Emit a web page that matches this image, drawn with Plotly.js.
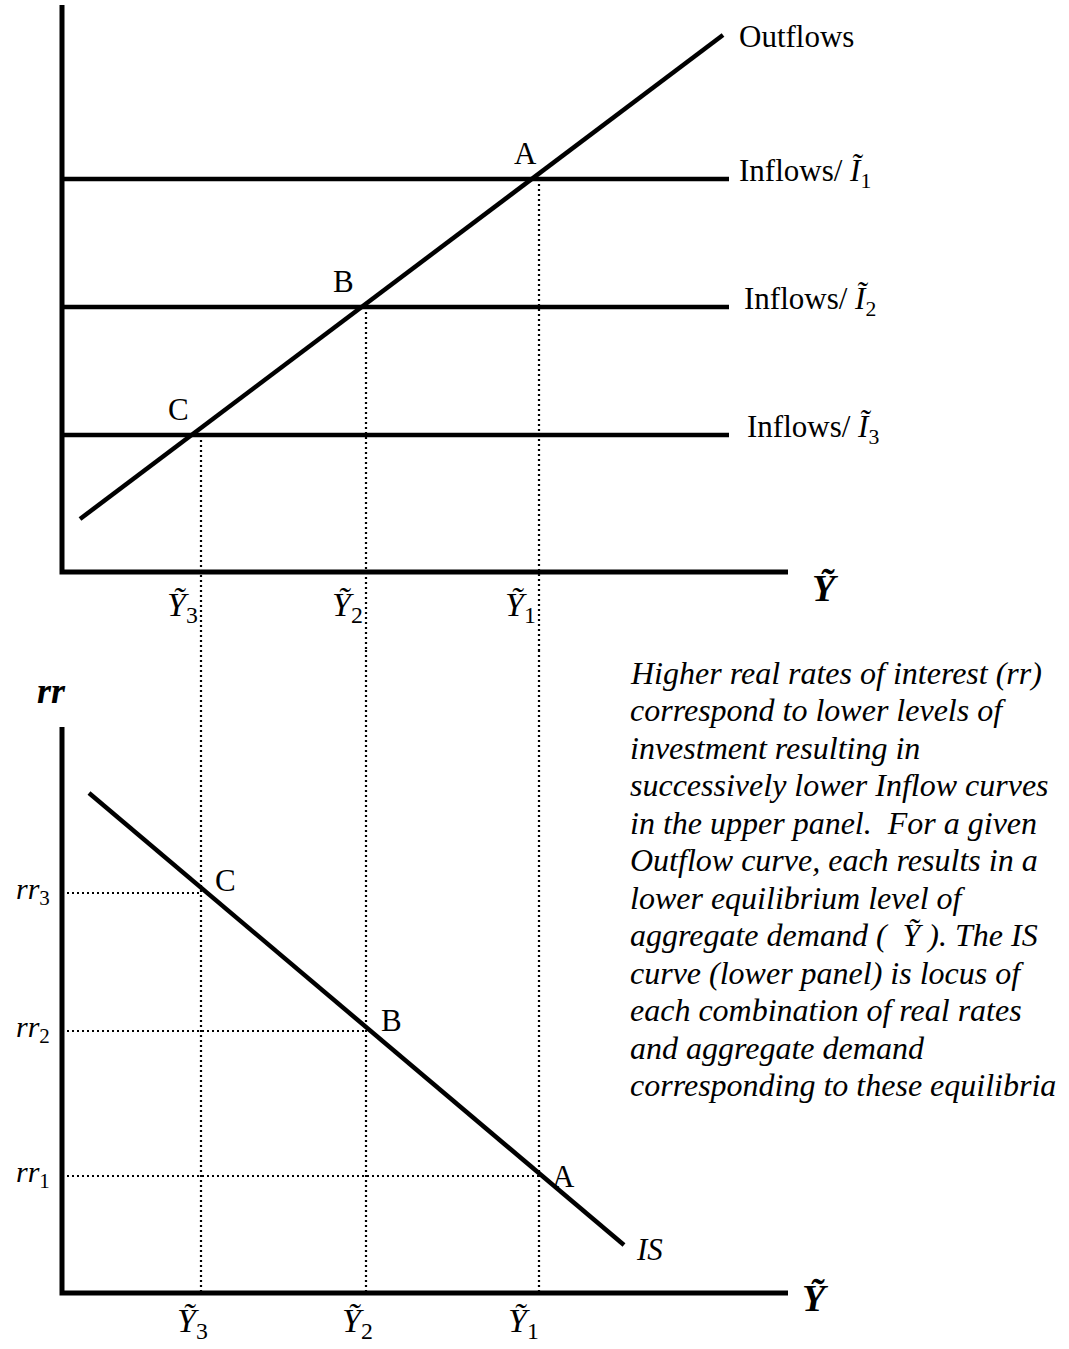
<!DOCTYPE html>
<html>
<head>
<meta charset="utf-8">
<script src="https://cdn.plot.ly/plotly-3.0.1.min.js"></script>
<style>html,body{margin:0;padding:0;background:#fff;}#chart{width:1069px;height:1349px;}</style>
</head>
<body>
<div id="chart"></div>
<script>
// ---- data ----
const yLevelNames = ['3', '2', '1'];           // Ỹ3, Ỹ2, Ỹ1
const yLevels = [13.9, 30.4, 47.7];            // equilibrium output levels
const inflowNames = ['3', '2', '1'];           // Ĩ3, Ĩ2, Ĩ1
const inflowLevels = [13.7, 26.5, 39.3];       // inflow (investment) levels
const pointNames = ['C', 'B', 'A'];
const rrNames = ['3', '2', '1'];
const rrLevels = [40.0, 26.2, 11.7];           // real rates rr3, rr2, rr1
const outflowX = [1.8, 66.1];
const outflowY = [5.3, 53.7];
const inflowX = [0, 66.7];
const isX = [2.7, 56.2];
const isY = [50.0, 4.8];
const axisXEnd = 72.6;
const upperAxisTop = 56.7;
const lowerAxisTop = 56.6;
const noteLines = [
  'Higher real rates of interest (rr)',
  'correspond to lower levels of',
  'investment resulting in',
  'successively lower Inflow curves',
  'in the upper panel.  For a given',
  'Outflow curve, each results in a',
  'lower equilibrium level of',
  'aggregate demand (  Ỹ ). The IS',
  'curve (lower panel) is locus of',
  'each combination of real rates',
  'and aggregate demand',
  'corresponding to these equilibria'
];

// ---- layout ranges ----
const xRange = [-6.2, 100.7];
const yRange1 = [-7.8, 57.2];
const yRange2 = [-5.6, 64.3];

const FONT = 'Liberation Serif, Times New Roman, serif';
const traces = [];
const axisLine = {color: '#000', width: 5};
const solid = {color: '#000', width: 4.5};
const dotted = {color: '#000', width: 2.2, dash: '2px,3px'};

// upper axes
traces.push({x: [0, 0, axisXEnd], y: [upperAxisTop, 0, 0], xaxis: 'x', yaxis: 'y', mode: 'lines', line: axisLine});
// lower axes
traces.push({x: [0, 0, axisXEnd], y: [lowerAxisTop, 0, 0], xaxis: 'x', yaxis: 'y2', mode: 'lines', line: axisLine});

// dotted guide lines
yLevels.forEach((yv, i) => {
  traces.push({x: [yv, yv], y: [inflowLevels[i], yRange1[0]], xaxis: 'x', yaxis: 'y', mode: 'lines', line: dotted});
  traces.push({x: [yv, yv], y: [yRange2[1], 0], xaxis: 'x', yaxis: 'y2', mode: 'lines', line: dotted});
  traces.push({x: [0, yv], y: [rrLevels[i], rrLevels[i]], xaxis: 'x', yaxis: 'y2', mode: 'lines', line: dotted});
});

// inflow lines
inflowLevels.forEach(lv => {
  traces.push({x: inflowX, y: [lv, lv], xaxis: 'x', yaxis: 'y', mode: 'lines', line: solid});
});
// outflow line
traces.push({x: outflowX, y: outflowY, xaxis: 'x', yaxis: 'y', mode: 'lines', line: solid});
// IS curve
traces.push({x: isX, y: isY, xaxis: 'x', yaxis: 'y2', mode: 'lines', line: solid});

traces.forEach(t => { t.hoverinfo = 'skip'; t.showlegend = false; t.cliponaxis = false; });

const ann = [];
function A(o) {
  const size = o.size || 31;
  const style = o.fstyle || 'normal';
  const weight = o.fweight || 'normal';
  delete o.size; delete o.fstyle; delete o.fweight;
  ann.push(Object.assign({showarrow: false, font: {family: FONT, size: size, color: '#000', style: style, weight: weight}}, o));
}

A({text: 'Outflows', x: outflowX[1], y: outflowY[1], xref: 'x', yref: 'y', xanchor: 'left', yanchor: 'middle', xshift: 14, yshift: -1});
inflowLevels.forEach((lv, i) => {
  A({text: 'Inflows/ <i>Ĩ</i><sub>' + inflowNames[i] + '</sub>', x: inflowX[1], y: lv, xref: 'x', yref: 'y', xanchor: 'left', yanchor: 'middle', xshift: i === 2 ? 8 : (i === 1 ? 13 : 16), yshift: 6});
});
// points upper
yLevels.forEach((yv, i) => {
  A({text: pointNames[i], x: yv, y: inflowLevels[i], xref: 'x', yref: 'y', xanchor: 'center', yanchor: 'middle', xshift: -23 + (i === 2 ? 9 : 0), yshift: 26});
});
// points lower
yLevels.forEach((yv, i) => {
  A({text: pointNames[i], x: yv, y: rrLevels[i], xref: 'x', yref: 'y2', xanchor: 'center', yanchor: 'middle', xshift: 20 + (i === 1 ? 5 : 4), yshift: 13 - (i === 2 ? 13 : 0) + (i === 1 ? -2 : 0)});
});
// Y tick labels upper
yLevels.forEach((yv, i) => {
  A({text: '<i>Ỹ</i><sub>' + yLevelNames[i] + '</sub>', x: yv, y: 0, xref: 'x', yref: 'y', xanchor: 'right', yanchor: 'top', xshift: -1, yshift: -12, size: 34});
});
// Y tick labels lower
yLevels.forEach((yv, i) => {
  A({text: '<i>Ỹ</i><sub>' + yLevelNames[i] + '</sub>', x: yv, y: 0, xref: 'x', yref: 'y2', xanchor: 'center', yanchor: 'top', xshift: i === 2 ? -16 : -9, yshift: -7, size: 34});
});
// rr tick labels
rrLevels.forEach((rv, i) => {
  A({text: '<i>rr</i><sub>' + rrNames[i] + '</sub>', x: 0, y: rv, xref: 'x', yref: 'y2', xanchor: 'right', yanchor: 'middle', xshift: -10, yshift: 2, size: 30});
});
// axis titles
A({text: 'Ỹ', x: axisXEnd, y: 0, xref: 'x', yref: 'y', xanchor: 'left', yanchor: 'middle', xshift: 22, yshift: -16, size: 38, fstyle: 'italic', fweight: 'bold'});
A({text: 'Ỹ', x: axisXEnd, y: 0, xref: 'x', yref: 'y2', xanchor: 'left', yanchor: 'middle', xshift: 12, yshift: -5, size: 38, fstyle: 'italic', fweight: 'bold'});
A({text: 'rr', x: 0, y: lowerAxisTop, xref: 'x', yref: 'y2', xanchor: 'center', yanchor: 'bottom', xshift: -11, yshift: 14, size: 36, fstyle: 'italic', fweight: 'bold'});
A({text: 'IS', x: isX[1], y: isY[1], xref: 'x', yref: 'y2', xanchor: 'left', yanchor: 'middle', xshift: 10, yshift: -4, size: 31, fstyle: 'italic'});

// explanatory text, one line each
noteLines.forEach((line, i) => {
  A({text: line, x: 628 / 1069, y: 1 - (673 + i * 37.45) / 1349, xref: 'paper', yref: 'paper', xanchor: 'left', yanchor: 'middle', align: 'left', size: 32, fstyle: 'italic'});
});

const hidden = {visible: false, fixedrange: true};
const layout = {
  width: 1069, height: 1349,
  margin: {l: 0, r: 0, t: 0, b: 0, pad: 0},
  paper_bgcolor: '#fff', plot_bgcolor: 'rgba(0,0,0,0)',
  showlegend: false,
  xaxis: Object.assign({domain: [0, 1], range: xRange, anchor: 'y'}, hidden),
  yaxis: Object.assign({domain: [1 - 650 / 1349, 1], range: yRange1, anchor: 'x'}, hidden),
  yaxis2: Object.assign({domain: [0, 1 - 650 / 1349], range: yRange2, anchor: 'x'}, hidden),
  annotations: ann
};
Plotly.newPlot('chart', traces, layout, {displayModeBar: false});
</script>
</body>
</html>
